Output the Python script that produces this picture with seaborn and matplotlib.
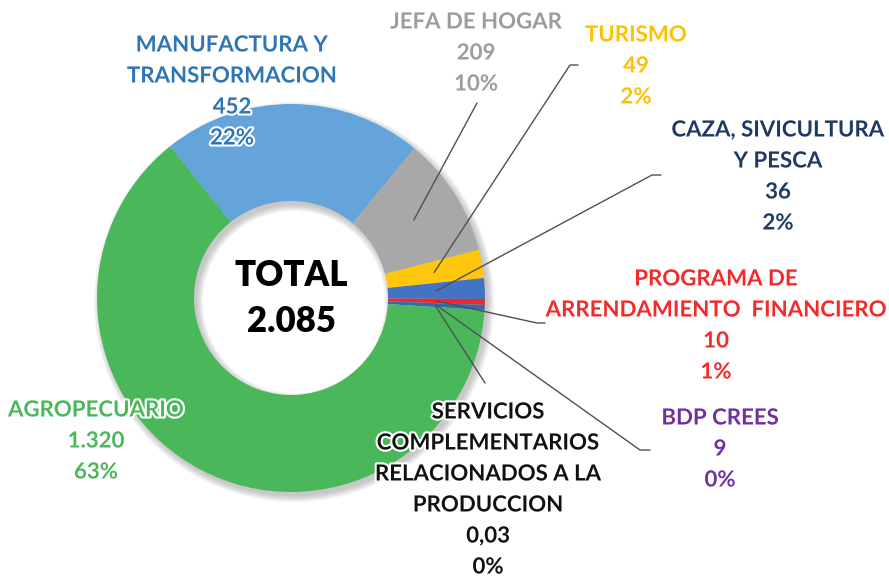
import matplotlib
matplotlib.use("Agg")
import matplotlib.pyplot as plt
import matplotlib.patheffects as pe
import seaborn as sns
import numpy as np

# data, clockwise from the upper-left edge of the blue slice
sectors = ['MANUFACTURA Y\nTRANSFORMACION', 'JEFA DE HOGAR', 'TURISMO',
           'CAZA, SIVICULTURA\nY PESCA', 'PROGRAMA DE\nARRENDAMIENTO  FINANCIERO',
           'BDP CREES', 'SERVICIOS\nCOMPLEMENTARIOS\nRELACIONADOS A LA\nPRODUCCION',
           'AGROPECUARIO']
amounts = [452, 209, 49, 36, 10, 9, 0.03, 1320]
amount_labels = ['452', '209', '49', '36', '10', '9', '0,03', '1.320']
pct_labels = ['22%', '10%', '2%', '2%', '1%', '0%', '0%', '63%']
total_label = '2.085'

slice_colors = ['#64A4DA', '#A8A8A8', '#FFC60B', '#4472C4', '#F0282C',
                '#2E6EB0', '#1F3864', '#4AB85A']
text_colors = ['#2E75B6', '#9C9C9C', '#FFC000', '#203864', '#F42A2A',
               '#7030A0', '#111111', '#4AB85A']

sns.set_theme(style='white')
plt.rcParams['font.family'] = ['Lato', 'DejaVu Sans']

fig = plt.figure(figsize=(8.89, 5.77), dpi=100)
ax = fig.add_axes([0, 0, 1, 1])
ax.set_xlim(0, 889)
ax.set_ylim(577, 0)
ax.set_aspect('equal')
ax.axis('off')

cx, cy, R, w = 291, 298, 194, 0.5

# soft drop shadow behind the ring
for k in range(7):
    ax.pie([1], radius=R + k, center=(cx + 3, cy + 4), colors=['#7f7f7f'],
           wedgeprops=dict(width=R * w + 2 * k, alpha=0.07, linewidth=0))

wedges, _ = ax.pie(amounts, radius=R, center=(cx, cy), colors=slice_colors,
                   startangle=-128.5, counterclock=True,
                   wedgeprops=dict(width=R * w, linewidth=0))
ax.set_xlim(0, 889)
ax.set_ylim(577, 0)

ax.text(cx, 275, 'TOTAL', ha='center', va='center', fontsize=25,
        fontweight='heavy', color='black')
ax.text(cx, 322, total_label, ha='center', va='center', fontsize=25,
        fontweight='heavy', color='black')

# label blocks: x centre, y of first line
label_pos = [(232, 45), (476, 22), (636, 35), (778, 130), (716, 279),
             (720, 418), (488, 412), (96, 410)]
pitch = 31
glow = [pe.withStroke(linewidth=3, foreground='white')]
for name, amt, pct, col, (lx, ly) in zip(sectors, amount_labels, pct_labels,
                                          text_colors, label_pos):
    lines = name.split('\n') + [amt, pct]
    for i, line in enumerate(lines):
        ax.text(lx, ly + i * pitch, line, ha='center', va='center',
                fontsize=16, fontweight='bold', color=col, path_effects=glow)

# leader lines from the middle of the thin slices
leader_pts = {1: [(477, 103)],
              2: [(570, 65), (578, 65)],
              3: [(652, 175), (661, 175)],
              4: [(537, 323), (545, 323)],
              5: [(640, 450), (650, 450)],
              6: [(485, 383)]}
rmid = R * (1 - w / 2)
for idx, pts in leader_pts.items():
    wd = wedges[idx]
    ang = np.deg2rad((wd.theta1 + wd.theta2) / 2)
    ax_ = cx + rmid * np.cos(ang)
    ay_ = cy + rmid * np.sin(ang)
    xs = [ax_] + [p[0] for p in pts]
    ys = [ay_] + [p[1] for p in pts]
    ax.plot(xs, ys, color='#505050', lw=1)

fig.savefig('out.png', dpi=100, facecolor='white')
